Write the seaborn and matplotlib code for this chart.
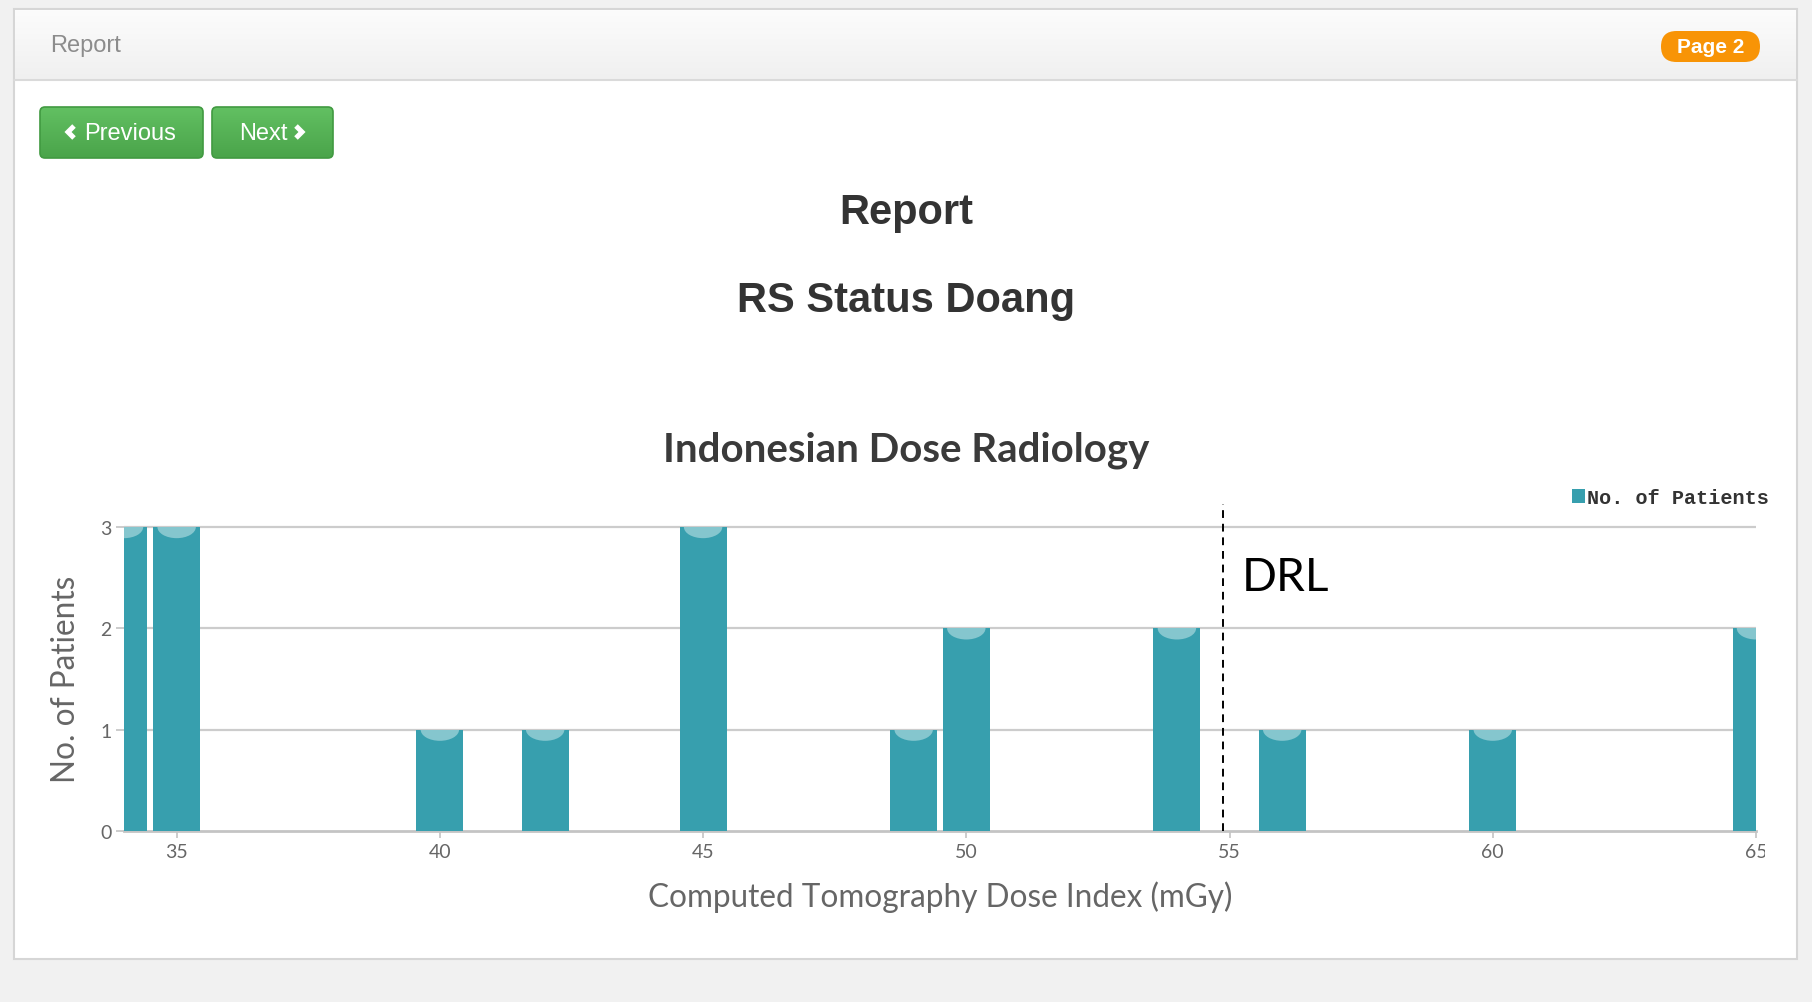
import numpy as np
import matplotlib
matplotlib.use("Agg")
import matplotlib.pyplot as plt
import seaborn as sns
from matplotlib.patches import Rectangle, FancyBboxPatch, Ellipse
from matplotlib.colors import LinearSegmentedColormap
from matplotlib.transforms import Bbox, TransformedBbox

# Data
dose_values = [34, 35, 40, 42, 45, 49, 50, 54, 56, 60, 65]
patient_counts = [3, 3, 1, 1, 3, 1, 2, 2, 1, 1, 2]
x_ticks = [35, 40, 45, 50, 55, 60, 65]
y_ticks = [0, 1, 2, 3]
drl_value = 54.87

BAR_COLOR = "#379fae"
CAP_COLOR = "#85c6ce"
GRID_COLOR = "#cccccc"
W, H = 1812, 1003

sns.set_theme(style="white")
plt.rcParams["font.family"] = ["Lato", "DejaVu Sans"]

fig = plt.figure(figsize=(W / 100, H / 100), dpi=100, facecolor="#f1f1f1")

# ---- page chrome (pixel coordinates) ----
bg = fig.add_axes([0, 0, 1, 1], zorder=0)
bg.set_xlim(0, W)
bg.set_ylim(H, 0)
bg.axis("off")

bg.add_patch(Rectangle((14, 10), 1783, 950, facecolor="white", edgecolor="#d6d6d6", lw=1.5, zorder=1))
hdr_cmap = LinearSegmentedColormap.from_list("hdr", ["#fcfcfc", "#f0f0f0"])
bg.imshow(np.linspace(0, 1, 64).reshape(-1, 1), cmap=hdr_cmap, extent=(15, 1796, 81, 11),
          aspect="auto", zorder=1.5)
bg.plot([14, 1797], [81, 81], color="#dadada", lw=1.5, zorder=2)
bg.text(50, 46, "Report", family="Liberation Sans", fontsize=17, color="#8c8c8c", va="center", ha="left")

# badge
bg.add_patch(FancyBboxPatch((1661, 32), 99, 31, boxstyle="round,pad=0,rounding_size=15.5",
                            facecolor="#f89406", edgecolor="none", zorder=2))
bg.text(1710.5, 47.5, "Page 2", family="Liberation Sans", fontweight="bold", fontsize=15,
        color="white", ha="center", va="center", zorder=3)

# buttons
btn_cmap = LinearSegmentedColormap.from_list("btn", ["#62c062", "#4aa44a"])
for (x0, w, label, direction, cx) in [(40, 163, "Previous", -1, 71), (212, 121, "Next", 1, 299)]:
    box = FancyBboxPatch((x0, 108), w, 51, boxstyle="round,pad=0,rounding_size=5",
                         facecolor="none", edgecolor="#419a41", lw=1.2, zorder=3)
    bg.add_patch(box)
    im = bg.imshow(np.linspace(0, 1, 64).reshape(-1, 1), cmap=btn_cmap,
                   extent=(x0, x0 + w, 159, 108), aspect="auto", zorder=2)
    im.set_clip_path(box)
    tx = x0 + w / 2 + (9 if direction < 0 else -9)
    bg.text(tx, 134, label, family="Liberation Sans", fontsize=17, color="white",
            ha="center", va="center", zorder=4)
    # chevron icon
    bg.plot([cx - 3 * direction, cx + 3 * direction, cx - 3 * direction], [127, 133, 139],
            color="white", lw=3.6, solid_capstyle="butt", solid_joinstyle="miter", zorder=4)
bg.set_xlim(0, W)
bg.set_ylim(H, 0)

# titles
bg.text(906, 213, "Report", family="Liberation Sans", fontweight="bold", fontsize=30,
        color="#333333", ha="center", va="center")
bg.text(906, 301, "RS Status Doang", family="Liberation Sans", fontweight="bold", fontsize=30,
        color="#333333", ha="center", va="center")
bg.text(906, 450, "Indonesian Dose Radiology", fontweight="bold", fontsize=29,
        color="#3a3a3a", ha="center", va="center")

# ---- chart ----
ax = fig.add_axes([124 / W, 1 - 832 / H, (1756 - 124) / W, (832 - 526) / H], zorder=1)
ax.set_facecolor("none")

sns.barplot(x=dose_values, y=patient_counts, native_scale=True, color=BAR_COLOR,
            saturation=1, width=0.89, linewidth=0, label="No. of Patients", ax=ax, zorder=3)

# light caps on top of every bar
for bar in list(ax.patches):
    bx, bw, bh = bar.get_x(), bar.get_width(), bar.get_height()
    cap = Ellipse((bx + bw / 2, bh), bw * 0.82, 0.22, facecolor=CAP_COLOR, edgecolor="none", zorder=4)
    ax.add_patch(cap)
    cap.set_clip_path(bar.get_path(), bar.get_transform())

ax.set_xlim(34, 65)
ax.set_ylim(0, 3.02)
ax.set_xticks(x_ticks)
ax.set_yticks(y_ticks)
for y in y_ticks[1:]:
    ax.axhline(y, color=GRID_COLOR, lw=1.6, zorder=1)

for s in ["top", "right", "left"]:
    ax.spines[s].set_visible(False)
ax.spines["bottom"].set_color("#c4c4c4")
ax.spines["bottom"].set_linewidth(2)
ax.spines["bottom"].set_zorder(2)

ax.tick_params(axis="y", length=6, width=1.4, color=GRID_COLOR, labelsize=14,
               labelcolor="#666666", pad=3, left=True)
ax.tick_params(axis="x", length=5, width=1.4, color=GRID_COLOR, labelsize=14,
               labelcolor="#666666", pad=4, bottom=True)

ax.set_xlabel("Computed Tomography Dose Index (mGy)", fontsize=22.7, color="#666666")
ax.xaxis.set_label_coords(0.5, -(897 - 832) / 306)
ax.xaxis.label.set_va("center")
ax.set_ylabel("No. of Patients", fontsize=22.7, color="#666666")
ax.yaxis.set_label_coords(-(124 - 66) / 1632, 0.5)
ax.yaxis.label.set_va("center")

# DRL marker
ax.vlines(drl_value, 0, 3.23, colors="black", linestyles=(0, (4, 3)), lw=1.4, clip_on=False, zorder=5)
ax.text(drl_value + 0.36, 2.51, "DRL", fontsize=33, color="black", va="center", ha="left", zorder=5)

ax.legend(loc="lower right", bbox_to_anchor=(1.014, 1.027), frameon=False,
          prop={"family": "Liberation Mono", "weight": "bold", "size": 14.5},
          handlelength=0.65, handleheight=0.7, handletextpad=0.1, borderpad=0,
          labelcolor="#333333")

# right-most tick label is cut by the page edge in the original
fig.canvas.draw()
clip = TransformedBbox(Bbox([[0, 0], [1765 / W, 1]]), fig.transFigure)
for lbl in ax.get_xticklabels():
    lbl.set_clip_box(clip)
    lbl.set_clip_on(True)

fig.savefig("out.png", dpi=100, facecolor=fig.get_facecolor())
